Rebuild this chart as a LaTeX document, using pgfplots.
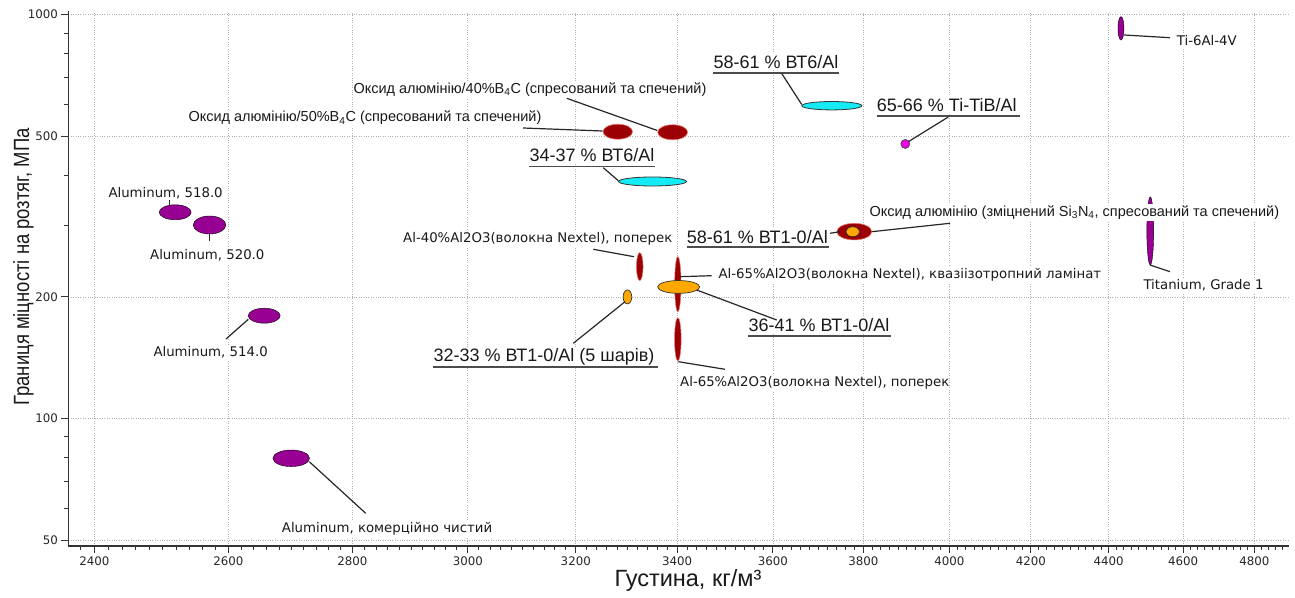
\documentclass[border=0pt]{standalone}
\usepackage{fontspec}
\setmainfont{Liberation Sans}
\newfontfamily\vfont{DejaVu Sans}
\newfontfamily\narrowfont[FakeStretch=0.84]{Liberation Sans}
\usepackage{pgfplots}
\pgfplotsset{compat=1.18}
\definecolor{alpurple}{RGB}{152,0,148}
\definecolor{dred}{RGB}{155,0,5}
\definecolor{dredglow}{RGB}{235,120,110}
\definecolor{cyanf}{RGB}{20,235,245}
\definecolor{orangef}{RGB}{255,168,0}
\definecolor{magf}{RGB}{235,0,230}
\definecolor{txt}{RGB}{25,25,25}
\pgfplotsset{ell/.style n args={3}{only marks, mark=*, mark size=1pt, mark options={xscale=#1, yscale=#2, #3}}}
\tikzset{
 lblA/.style={anchor=base west, inner xsep=0pt, inner ysep=1.5pt, fill=white, text=txt, font=\fontsize{14.5}{16}\selectfont},
 lblV/.style={anchor=base west, inner xsep=0pt, inner ysep=1.5pt, fill=white, text=txt, font=\vfont\fontsize{13.3}{15}\selectfont},
 lblU/.style={anchor=base west, inner xsep=0pt, inner ysep=1.5pt, fill=white, text=txt, font=\fontsize{18}{20}\selectfont},
 lead/.style={draw=black!85, line width=1.2pt},
 uline/.style={draw=black!70, line width=1.8pt},
}
\begin{document}
\begin{tikzpicture}[x=1pt,y=1pt]
\useasboundingbox (0,0) rectangle (1295,597);
\begin{axis}[
  at={(68.3pt,51pt)}, anchor=south west,
  scale only axis, width=1220.4pt, height=534.8pt,
  xmode=log, ymode=log,
  xmin=2363, xmax=4900, ymin=48.33, ymax=1020,
  axis x line*=bottom, axis y line*=left,
  axis line style={black!80, line width=1.2pt},
  xtick={2400,2600,2800,3000,3200,3400,3600,3800,4000,4200,4400,4600,4800},
  xticklabels={2400,2600,2800,3000,3200,3400,3600,3800,4000,4200,4400,4600,4800},
  ytick={50,100,200,500,1000}, yticklabels={50,100,200,500,1000},
  minor ytick={60,70,80,90,300,400,600,700,800,900},
  minor xtick={2380,2420,2440,2460,2480,2500,2520,2540,2560,2580,
    2620,2640,2660,2680,2700,2720,2740,2760,2780,
    2820,2840,2860,2880,2900,2920,2940,2960,2980,
    3020,3040,3060,3080,3100,3120,3140,3160,3180,
    3220,3240,3260,3280,3300,3320,3340,3360,3380,
    3420,3440,3460,3480,3500,3520,3540,3560,3580,
    3620,3640,3660,3680,3700,3720,3740,3760,3780,
    3820,3840,3860,3880,3900,3920,3940,3960,3980,
    4020,4040,4060,4080,4100,4120,4140,4160,4180,
    4220,4240,4260,4280,4300,4320,4340,4360,4380,
    4420,4440,4460,4480,4500,4520,4540,4560,4580,
    4620,4640,4660,4680,4700,4720,4740,4760,4780,
    4820,4840,4860,4880},
  grid=major, major grid style={dotted, black!30, line width=0.8pt},
  tick align=outside, major tick length=7pt, minor tick length=4pt,
  tick style={black!80, line width=0.9pt},
  ticklabel style={font=\vfont\fontsize{11.8}{13}\selectfont, text=black!85},
  clip=false,
]
% Aluminium alloys
\addplot[ell={16}{7.5}{fill=alpurple, draw=none}] coordinates {(2518.6,324.1)};
\addplot[ell={16.3}{9}{fill=alpurple, draw=none}] coordinates {(2570.9,301.4)};
\addplot[ell={16}{7.5}{fill=alpurple, draw=none}] coordinates {(2656.3,179.7)};
\addplot[ell={18.3}{8.3}{fill=alpurple, draw=none}] coordinates {(2699.5,79.7)};
% alumina composites (dark red)
\addplot[ell={14.8}{7.5}{fill=dred, draw=dredglow, line width=0.6pt}] coordinates {(3281.2,513.0)};
\addplot[ell={15}{7.5}{fill=dred, draw=dredglow, line width=0.6pt}] coordinates {(3390.9,511.4)};
\addplot[ell={17.5}{8.3}{fill=dred, draw=dredglow, line width=0.6pt}] coordinates {(3779.3,290.2)};
\addplot[ell={3.3}{14}{fill=dred, draw=dredglow, line width=0.5pt}] coordinates {(3324.7,237.7)};
\addplot[ell={3.2}{27.5}{fill=dred, draw=dredglow, line width=0.5pt}] coordinates {(3401.1,215.1)};
\addplot[ell={3.3}{21.7}{fill=dred, draw=dredglow, line width=0.5pt}] coordinates {(3401.1,157.1)};
% VT6/Al (cyan)
\addplot[ell={34}{4.5}{fill=cyanf, draw=black!80, line width=0.8pt}] coordinates {(3350.0,386.3)};
\addplot[ell={30}{4.2}{fill=cyanf, draw=black!80, line width=0.8pt}] coordinates {(3729.2,595.0)};
% Ti-TiB/Al
\addplot[ell={4.5}{4.5}{fill=magf, draw=black!70, line width=0.7pt}] coordinates {(3896.4,478.4)};
% Titanium
\addplot[ell={3}{11.7}{fill=alpurple, draw=none}] coordinates {(4432.2,925.0)};
\addplot[ell={3.4}{34}{fill=alpurple, draw=none}] coordinates {(4510.5,291.3)};
% VT1-0/Al (orange)
\addplot[ell={6.7}{5}{fill=orangef, draw=black!80, line width=0.7pt}] coordinates {(3776.3,290.0)};
\addplot[ell={21}{6.4}{fill=orangef, draw=black!80, line width=0.7pt}] coordinates {(3403.1,211.7)};
\addplot[ell={4.3}{7}{fill=orangef, draw=black!80, line width=0.7pt}] coordinates {(3300.3,200.0)};
\end{axis}
\begin{scope}[shift={(0,597)}, yscale=-1]
% axis titles
\node[rotate=90, font=\narrowfont\fontsize{22}{24}\selectfont, text=txt] at (23.5,267) {Границя міцності на розтяг, МПа};
\node[font=\fontsize{23.5}{25}\selectfont, text=txt] at (688,580) {Густина, кг/м³};
% labels
\node[lblV] at (108.3,197.3) {Aluminum, 518.0};
\node[lblV] at (150,260) {Aluminum, 520.0};
\node[lblV] at (153.3,356.7) {Aluminum, 514.0};
\node[lblV] at (281.7,532.3) {Aluminum, комерційно чистий};
\node[lblA] at (188.3,122) {Оксид алюмінію/50\%B\textsubscript{4}C (спресований та спечений)};
\node[lblA] at (353.3,93.5) {Оксид алюмінію/40\%B\textsubscript{4}C (спресований та спечений)};
\node[lblA] at (869.3,216.7) {Оксид алюмінію (зміцнений Si\textsubscript{3}N\textsubscript{4}, спресований та спечений)};
\node[lblV] at (1176.7,46) {Ti-6Al-4V};
\node[lblV] at (1143.3,290) {Titanium, Grade 1};
\node[lblV] at (403,242.7) {Al-40\%Al2O3(волокна Nextel), поперек};
\node[lblV] at (718.3,279) {Al-65\%Al2O3(волокна Nextel), квазіізотропний ламінат};
\node[lblV] at (680,386.7) {Al-65\%Al2O3(волокна Nextel), поперек};
\node[lblU] at (529.3,161.7) {34-37 \% ВТ6/Al};
\node[lblU] at (713.3,68.3) {58-61 \% ВТ6/Al};
\node[lblU] at (876.7,111.7) {65-66 \% Ti-TiB/Al};
\node[lblU] at (686.7,244) {58-61 \% ВТ1-0/Al};
\node[lblU] at (748.3,331.7) {36-41 \% ВТ1-0/Al};
\node[lblU] at (433.3,361.7) {32-33 \% ВТ1-0/Al (5 шарів)};
% underlines
\draw[uline] (529.3,166.5) -- (655,166.5);
\draw[uline] (713.3,72.7) -- (839.3,72.7);
\draw[uline] (876.7,115.7) -- (1020,115.7);
\draw[uline] (686.7,247.3) -- (829,247.3);
\draw[uline] (748.3,336) -- (890.7,336);
\draw[uline] (433.3,366.7) -- (658.3,366.7);
% leader lines
\draw[lead] (169.5,200.5) -- (169.5,205);
\draw[lead] (209.3,234.5) -- (209.3,241);
\draw[lead] (248.3,319.3) -- (226,339);
\draw[lead] (309.3,461.7) -- (365.7,513.3);
\draw[lead] (523,128) -- (602.5,131);
\draw[lead] (566.7,98.3) -- (657.3,130.5);
\draw[lead] (603.3,167.7) -- (618.3,180.7);
\draw[lead] (781.7,73.5) -- (801.7,104.5);
\draw[lead] (948.3,117) -- (908.3,141.7);
\draw[lead] (1124,35) -- (1170,37.7);
\draw[lead] (1150,265) -- (1170,271.7);
\draw[lead] (871.7,231.7) -- (950,223.3);
\draw[lead] (830,233.3) -- (840,231.7);
\draw[lead] (593.3,249.3) -- (634,256.7);
\draw[lead] (680,276.7) -- (711.7,275.7);
\draw[lead] (678.3,361.7) -- (725,369.3);
\draw[lead] (696.7,290) -- (776.7,320);
\draw[lead] (625,301.7) -- (573.3,343.3);
\end{scope}
\end{tikzpicture}
\end{document}
